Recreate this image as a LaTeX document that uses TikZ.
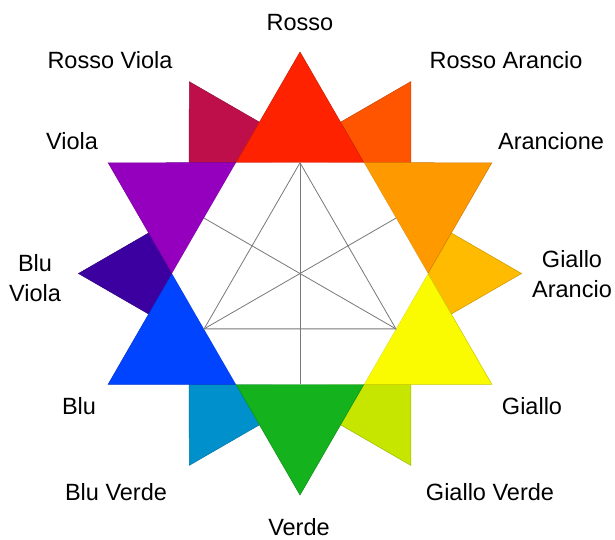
\documentclass[tikz,border=0pt]{standalone}
\usepackage{fontspec}
\setmainfont{Liberation Sans}
\definecolor{cR}{RGB}{255,34,0}
\definecolor{cRA}{RGB}{255,85,0}
\definecolor{cA}{RGB}{255,153,0}
\definecolor{cGA}{RGB}{255,187,0}
\definecolor{cG}{RGB}{250,250,0}
\definecolor{cGV}{RGB}{198,230,0}
\definecolor{cV}{RGB}{20,178,28}
\definecolor{cBV}{RGB}{0,144,204}
\definecolor{cB}{RGB}{0,68,255}
\definecolor{cBVi}{RGB}{60,0,160}
\definecolor{cVi}{RGB}{148,0,190}
\definecolor{cRV}{RGB}{190,15,75}
\definecolor{cLine}{RGB}{120,120,120}
\tikzset{
  tip/.style={fill=#1, draw=#1!80!black, line width=0.5pt, line join=miter},
  lab/.style={font=\fontsize{23.5}{30}\selectfont, inner sep=0pt, align=center},
  gridline/.style={draw=cLine, line width=0.8pt}
}
\begin{document}
\begin{tikzpicture}[x=1pt,y=1pt]
\useasboundingbox (0,0) rectangle (615,-539);
\def\R{221.5}
\def\ri{127.9}
\def\ap{110.75}
\begin{scope}[shift={(300,-273.5)}]
  % tertiary tips (behind)
  \foreach \a/\c in {60/cRA, 0/cGA, -60/cGV, -120/cBV, 180/cBVi, 120/cRV}
    \filldraw[tip=\c] (\a:\R) -- (\a-30:\ri) -- (\a+30:\ri) -- cycle;
  % primary and secondary tips
  \foreach \a/\c in {90/cR, 30/cA, -30/cG, -90/cV, -150/cB, 150/cVi}
    \filldraw[tip=\c] (\a:\R) -- (\a-30:\ri) -- (\a+30:\ri) -- cycle;
  % white inner hexagon
  \fill[white] (0:\ri) -- (60:\ri) -- (120:\ri) -- (180:\ri) -- (240:\ri) -- (300:\ri) -- cycle;
  % inner lines
  \coordinate (t1) at (90:\ap);
  \coordinate (t2) at (210:\ap);
  \coordinate (t3) at (330:\ap);
  \coordinate (o1) at (270:\ap);
  \coordinate (o2) at (30:\ap);
  \coordinate (o3) at (150:\ap);
  \draw[gridline] (t1) -- (t2) -- (t3) -- cycle;
  \draw[gridline] (t1) -- (o1);
  \draw[gridline] (t2) -- (o2);
  \draw[gridline] (t3) -- (o3);
\end{scope}
% labels
\node[lab, anchor=base] (lR) at (300,-30) {Rosso};
\node[lab, anchor=base] (lRV) at (110,-68.4) {Rosso Viola};
\node[lab, anchor=base] (lRA) at (506,-68.4) {Rosso Arancio};
\node[lab, anchor=base] (lVi) at (72,-149.9) {Viola};
\node[lab, anchor=base] (lA) at (551,-149.9) {Arancione};
\node[lab] (lBVi) at (35,-278) {Blu\\Viola};
\node[lab] (lGA) at (572,-274) {Giallo\\Arancio};
\node[lab, anchor=base] (lB) at (79,-414.4) {Blu};
\node[lab, anchor=base] (lG) at (532,-414.4) {Giallo};
\node[lab, anchor=base] (lBV) at (116,-500.4) {Blu Verde};
\node[lab, anchor=base] (lGV) at (490,-500.4) {Giallo Verde};
\node[lab, anchor=base] (lV) at (299,-535) {Verde};
\end{tikzpicture}
\end{document}
